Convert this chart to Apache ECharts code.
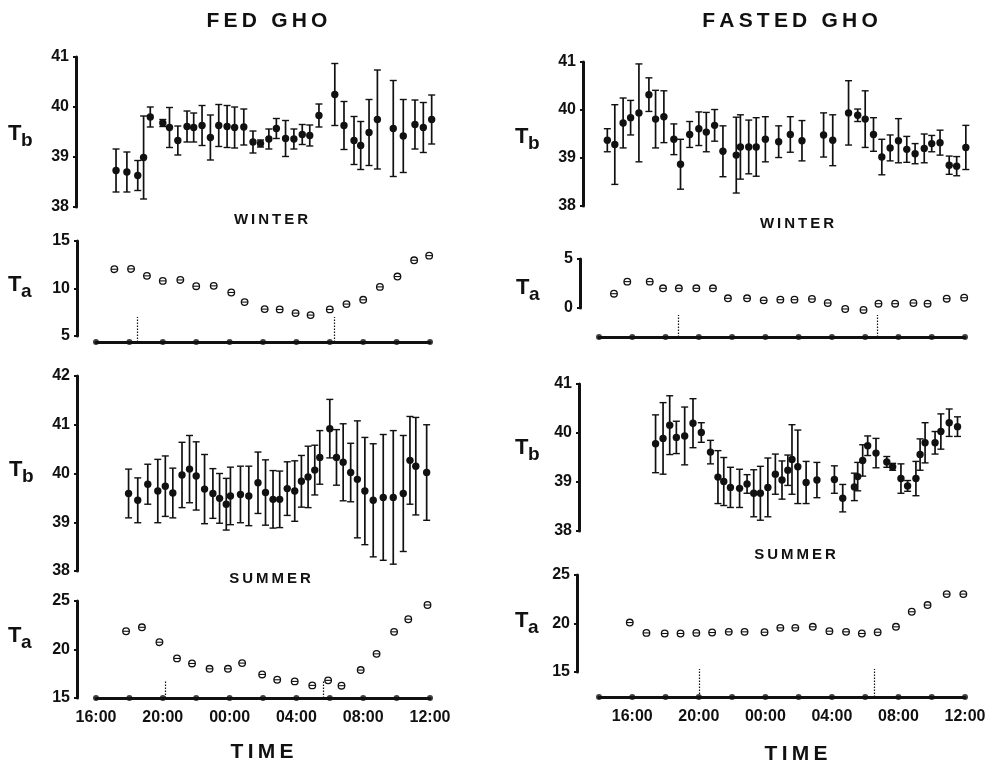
<!DOCTYPE html>
<html>
<head>
<meta charset="utf-8">
<script src="https://cdn.jsdelivr.net/npm/echarts@6/dist/echarts.min.js"></script>
<style>
  html, body { margin: 0; background: #fff; }
  #chart { width: 992px; height: 764px; }
</style>
</head>
<body>
<div id="chart"></div>
<script>
// hours counted from midnight of day 1 (16 = 16:00, 36 = 12:00 next day)
const fedTimeTicks = [16, 18, 20, 22, 24, 26, 28, 30, 32, 34, 36];
const fastTimeTicks = [14, 16, 18, 20, 22, 24, 26, 28, 30, 32, 34, 36];

// FED GHO, winter
const fedWinterTbHours = [17.2, 17.85, 18.5, 18.85, 19.25, 20.0, 20.4, 20.9, 21.45, 21.85, 22.35, 22.85, 23.35, 23.85, 24.3, 24.85, 25.4, 25.85, 26.35, 26.8, 27.35, 27.85, 28.35, 28.8, 29.35, 30.3, 30.85, 31.45, 31.85, 32.35, 32.85, 33.8, 34.4, 35.1, 35.6, 36.1];
const fedWinterTbMean = [38.73, 38.70, 38.63, 38.99, 39.80, 39.68, 39.59, 39.33, 39.61, 39.59, 39.63, 39.39, 39.63, 39.61, 39.59, 39.60, 39.30, 39.27, 39.36, 39.57, 39.37, 39.36, 39.45, 39.43, 39.83, 40.25, 39.63, 39.33, 39.23, 39.49, 39.75, 39.57, 39.42, 39.65, 39.59, 39.75];
const fedWinterTbSd = [0.43, 0.40, 0.30, 0.83, 0.20, 0.07, 0.40, 0.29, 0.31, 0.29, 0.40, 0.45, 0.42, 0.42, 0.41, 0.36, 0.22, 0.07, 0.20, 0.20, 0.36, 0.20, 0.20, 0.21, 0.23, 0.62, 0.48, 0.48, 0.48, 0.66, 0.99, 0.96, 0.73, 0.49, 0.50, 0.49];
const fedWinterTaHours = [17.1, 18.1, 19.05, 20.0, 21.05, 22.0, 23.05, 24.1, 24.9, 26.1, 27.0, 27.95, 28.85, 30.0, 31.0, 32.0, 33.0, 34.05, 35.05, 35.95];
const fedWinterTa = [12.03, 12.06, 11.33, 10.8, 10.9, 10.24, 10.28, 9.58, 8.57, 7.83, 7.8, 7.41, 7.2, 7.8, 8.36, 8.81, 10.17, 11.26, 12.97, 13.46];
const fedWinterSun = [18.45, 30.25];

// FED GHO, summer
const fedSummerTbHours = [17.95, 18.5, 19.1, 19.7, 20.15, 20.6, 21.15, 21.6, 22.0, 22.5, 23.0, 23.4, 23.8, 24.05, 24.65, 25.15, 25.7, 26.15, 26.6, 27.0, 27.45, 27.9, 28.3, 28.7, 29.1, 29.4, 30.0, 30.4, 30.8, 31.25, 31.65, 32.1, 32.6, 33.2, 33.8, 34.4, 34.8, 35.15, 35.8];
const fedSummerTbMean = [39.59, 39.45, 39.78, 39.64, 39.74, 39.60, 39.97, 40.09, 39.95, 39.68, 39.59, 39.49, 39.37, 39.54, 39.57, 39.54, 39.81, 39.61, 39.47, 39.47, 39.69, 39.64, 39.84, 39.93, 40.07, 40.33, 40.92, 40.33, 40.23, 40.02, 39.88, 39.64, 39.45, 39.51, 39.51, 39.59, 40.27, 40.15, 40.02];
const fedSummerTbSd = [0.50, 0.46, 0.41, 0.65, 0.62, 0.51, 0.67, 0.69, 0.70, 0.71, 0.51, 0.51, 0.53, 0.59, 0.58, 0.61, 0.63, 0.67, 0.59, 0.58, 0.55, 0.62, 0.53, 0.63, 0.51, 0.55, 0.60, 0.57, 0.79, 0.60, 1.20, 1.10, 1.16, 1.29, 1.37, 1.19, 0.90, 1.00, 0.98];
const fedSummerTaHours = [17.8, 18.75, 19.8, 20.85, 21.75, 22.8, 23.9, 24.75, 25.95, 26.85, 27.9, 28.95, 29.9, 30.7, 31.85, 32.8, 33.85, 34.7, 35.85];
const fedSummerTa = [21.88, 22.29, 20.75, 19.08, 18.56, 18.01, 18.01, 18.6, 17.43, 16.88, 16.71, 16.3, 16.82, 16.27, 17.88, 19.55, 21.82, 23.12, 24.59];
const fedSummerSun = [20.15, 29.6];

// FASTED GHO, winter
const fastWinterTbHours = [14.5, 14.95, 15.45, 15.9, 16.4, 17.0, 17.4, 17.9, 18.5, 18.9, 19.45, 20.0, 20.45, 20.95, 21.45, 22.25, 22.5, 23.0, 23.45, 24.0, 24.8, 25.5, 26.2, 27.5, 28.05, 29.0, 29.55, 30.0, 30.5, 31.0, 31.5, 32.0, 32.5, 33.0, 33.55, 34.0, 34.5, 35.05, 35.5, 36.05];
const fastWinterTbMean = [39.37, 39.28, 39.73, 39.84, 39.94, 40.32, 39.81, 39.86, 39.39, 38.87, 39.49, 39.61, 39.54, 39.68, 39.14, 39.06, 39.23, 39.23, 39.23, 39.39, 39.34, 39.49, 39.36, 39.48, 39.37, 39.94, 39.89, 39.81, 39.49, 39.02, 39.21, 39.36, 39.18, 39.09, 39.20, 39.30, 39.32, 38.85, 38.83, 39.22];
const fastWinterTbSd = [0.24, 0.83, 0.52, 0.36, 1.02, 0.35, 0.60, 0.54, 0.32, 0.52, 0.27, 0.35, 0.41, 0.33, 0.53, 0.79, 0.67, 0.56, 0.61, 0.47, 0.33, 0.37, 0.42, 0.46, 0.53, 0.67, 0.13, 0.59, 0.35, 0.37, 0.27, 0.46, 0.27, 0.21, 0.30, 0.17, 0.26, 0.19, 0.20, 0.46];
const fastWinterTaHours = [14.9, 15.7, 17.05, 17.85, 18.8, 19.85, 20.85, 21.75, 22.9, 23.9, 24.9, 25.75, 26.8, 27.75, 28.8, 29.9, 30.8, 31.8, 32.9, 33.75, 34.9, 35.95];
const fastWinterTa = [1.46, 2.69, 2.69, 2.01, 2.01, 2.01, 2.01, 0.99, 0.99, 0.78, 0.85, 0.85, 0.92, 0.51, -0.1, -0.2, 0.44, 0.44, 0.51, 0.44, 0.95, 1.05];
const fastWinterSun = [18.75, 30.7];

// FASTED GHO, summer
const fastSummerTbHours = [17.4, 17.85, 18.25, 18.65, 19.15, 19.65, 20.15, 20.7, 21.15, 21.5, 21.9, 22.45, 22.9, 23.3, 23.7, 24.15, 24.6, 25.0, 25.35, 25.6, 25.95, 26.45, 27.1, 28.15, 28.65, 29.35, 29.55, 29.85, 30.15, 30.65, 31.3, 31.65, 32.15, 32.55, 33.05, 33.3, 33.6, 34.2, 34.55, 35.05, 35.55];
const fastSummerTbMean = [39.78, 39.89, 40.16, 39.91, 39.94, 40.20, 40.01, 39.61, 39.10, 39.01, 38.89, 38.87, 38.96, 38.77, 38.77, 38.89, 39.16, 39.04, 39.24, 39.46, 39.31, 38.99, 39.04, 39.05, 38.67, 38.90, 39.11, 39.44, 39.74, 39.59, 39.41, 39.31, 39.07, 38.92, 39.07, 39.56, 39.80, 39.80, 40.03, 40.21, 40.13];
const fastSummerTbSd = [0.59, 0.73, 0.60, 0.33, 0.59, 0.50, 0.20, 0.24, 0.54, 0.49, 0.41, 0.39, 0.19, 0.48, 0.55, 0.60, 0.41, 0.39, 0.31, 0.71, 0.75, 0.43, 0.36, 0.28, 0.28, 0.28, 0.29, 0.32, 0.20, 0.30, 0.11, 0.07, 0.30, 0.11, 0.35, 0.32, 0.41, 0.23, 0.36, 0.28, 0.20];
const fastSummerTaHours = [15.85, 16.85, 17.95, 18.9, 19.85, 20.8, 21.8, 22.75, 23.95, 24.9, 25.8, 26.85, 27.85, 28.85, 29.8, 30.75, 31.85, 32.8, 33.75, 34.9, 35.9];
const fastSummerTa = [20.1, 19.03, 18.97, 18.97, 19.03, 19.07, 19.14, 19.14, 19.1, 19.55, 19.55, 19.66, 19.21, 19.14, 18.97, 19.1, 19.66, 21.21, 21.9, 23.03, 23.03];
const fastSummerSun = [20.05, 30.55];

const FONT = '"Liberation Sans", Arial, sans-serif';
const INK = '#111';

const fedCol = { left: 96, width: 334, tMin: 16, tMax: 36, ticks: fedTimeTicks };
const fastCol = { left: 599, width: 366, tMin: 14, tMax: 36, ticks: fastTimeTicks };

const grids = [], xAxes = [], yAxes = [], series = [], texts = [];

function hourLabel(h) {
  return h % 4 === 0 ? String(h % 24).padStart(2, '0') + ':00' : '';
}

// mean with symmetric error bar
function errorBarItem(params, api) {
  const x = api.value(0), m = api.value(1), sd = api.value(2);
  const c = api.coord([x, m]);
  const hi = api.coord([x, m + sd])[1];
  const lo = api.coord([x, m - sd])[1];
  const cap = 3.5;
  return {
    type: 'group',
    children: [
      { type: 'line', shape: { x1: c[0], y1: hi, x2: c[0], y2: lo }, style: { stroke: INK, lineWidth: 1.7 } },
      { type: 'line', shape: { x1: c[0] - cap, y1: hi, x2: c[0] + cap, y2: hi }, style: { stroke: INK, lineWidth: 1.4 } },
      { type: 'line', shape: { x1: c[0] - cap, y1: lo, x2: c[0] + cap, y2: lo }, style: { stroke: INK, lineWidth: 1.4 } },
      { type: 'circle', shape: { cx: c[0], cy: c[1], r: 3.7 }, style: { fill: INK } }
    ]
  };
}

// open circle with a bar through it (ambient temperature)
function thetaItem(params, api) {
  const c = api.coord([api.value(0), api.value(1)]);
  const r = 3.3;
  return {
    type: 'group',
    children: [
      { type: 'circle', shape: { cx: c[0], cy: c[1], r: r }, style: { fill: '#fff', stroke: INK, lineWidth: 1.3 } },
      { type: 'line', shape: { x1: c[0] - r, y1: c[1], x2: c[0] + r, y2: c[1] }, style: { stroke: INK, lineWidth: 1.1 } }
    ]
  };
}

function dataPanel(col, top, height, yMin, yMax, yStep, yOffset, render, data) {
  const i = grids.length;
  grids.push({ left: col.left, top: top, width: col.width, height: height, containLabel: false });
  xAxes.push({ gridIndex: i, type: 'value', min: col.tMin, max: col.tMax, show: false });
  yAxes.push({
    gridIndex: i, type: 'value', min: yMin, max: yMax, interval: yStep, offset: yOffset,
    axisLine: { show: true, lineStyle: { color: INK, width: 3 } },
    axisTick: { show: true, length: 3, lineStyle: { color: INK, width: 2 } },
    axisLabel: { color: INK, fontFamily: FONT, fontWeight: 'bold', fontSize: 16, margin: 7 },
    splitLine: { show: false }
  });
  series.push({ type: 'custom', xAxisIndex: i, yAxisIndex: i, renderItem: render, data: data, clip: false, silent: true });
}

function timePanel(col, axisY, height, showLabels, sun) {
  const i = grids.length;
  grids.push({ left: col.left, top: axisY - height, width: col.width, height: height, containLabel: false });
  xAxes.push({
    gridIndex: i, type: 'value', min: col.tMin, max: col.tMax, interval: 2,
    axisLine: { show: true, onZero: false, lineStyle: { color: INK, width: 3 } },
    axisTick: { show: false },
    splitLine: { show: false },
    axisLabel: {
      show: showLabels, formatter: hourLabel, color: INK, fontFamily: FONT, fontWeight: 'bold',
      fontSize: 16, margin: 12, showMinLabel: true, showMaxLabel: true, hideOverlap: false
    }
  });
  yAxes.push({ gridIndex: i, type: 'value', min: 0, max: 1, show: false });
  series.push({
    type: 'scatter', xAxisIndex: i, yAxisIndex: i, clip: false, silent: true,
    data: col.ticks.map(h => [h, 0]), symbolSize: 6, itemStyle: { color: INK },
    markLine: {
      silent: true, symbol: 'none', label: { show: false },
      lineStyle: { color: INK, type: [1.5, 1.5], width: 1.2, opacity: 1 },
      data: sun.map(h => ({ xAxis: h }))
    }
  });
}

function tb(hours, mean, sd) { return hours.map((h, k) => [h, mean[k], sd[k]]); }
function ta(hours, vals) { return hours.map((h, k) => [h, vals[k]]); }

function text(x, y, str, size, align) {
  texts.push({
    type: 'text', x: x, y: y, silent: true,
    style: { text: str, fill: INK, fontFamily: FONT, fontWeight: 'bold', fontSize: size, align: align || 'center', verticalAlign: 'middle' }
  });
}
function sym(x, y, sub) {
  text(x, y, 'T', 22, 'left');
  text(x + 13, y + 7, sub, 19, 'left');
}
const spaced = s => s.split('').join('\u2009');

// left column: FED GHO
dataPanel(fedCol, 57, 150, 38, 41, 1, 20, errorBarItem, tb(fedWinterTbHours, fedWinterTbMean, fedWinterTbSd));
dataPanel(fedCol, 241, 95, 5, 15, 5, 19, thetaItem, ta(fedWinterTaHours, fedWinterTa));
timePanel(fedCol, 342, 25, false, fedWinterSun);
dataPanel(fedCol, 376, 195, 38, 42, 1, 19, errorBarItem, tb(fedSummerTbHours, fedSummerTbMean, fedSummerTbSd));
dataPanel(fedCol, 601, 97, 15, 25, 5, 19, thetaItem, ta(fedSummerTaHours, fedSummerTa));
timePanel(fedCol, 698, 18, true, fedSummerSun);

// right column: FASTED GHO
dataPanel(fastCol, 62, 144, 38, 41, 1, 16, errorBarItem, tb(fastWinterTbHours, fastWinterTbMean, fastWinterTbSd));
dataPanel(fastCol, 259, 49, 0, 5, 5, 19, thetaItem, ta(fastWinterTaHours, fastWinterTa));
timePanel(fastCol, 337, 22, false, fastWinterSun);
dataPanel(fastCol, 384, 147, 38, 41, 1, 20, errorBarItem, tb(fastSummerTbHours, fastSummerTbMean, fastSummerTbSd));
dataPanel(fastCol, 575, 97, 15, 25, 5, 22, thetaItem, ta(fastSummerTaHours, fastSummerTa));
timePanel(fastCol, 697, 28, true, fastSummerSun);

text(267, 21, spaced('FED GHO'), 21);
text(790, 21, spaced('FASTED GHO'), 21);
text(271, 220, spaced('WINTER'), 15);
text(797, 224, spaced('WINTER'), 15);
text(270, 579, spaced('SUMMER'), 15);
text(795, 555, spaced('SUMMER'), 15);
text(262, 752, spaced('TIME'), 21);
text(796, 754, spaced('TIME'), 21);

sym(8, 134, 'b');
sym(8, 285, 'a');
sym(9, 470, 'b');
sym(8, 636, 'a');
sym(515, 137, 'b');
sym(516, 288, 'a');
sym(515, 448, 'b');
sym(515, 621, 'a');

const chart = echarts.init(document.getElementById('chart'), null, { renderer: 'canvas' });
chart.setOption({
  animation: false,
  backgroundColor: '#fff',
  grid: grids,
  xAxis: xAxes,
  yAxis: yAxes,
  series: series,
  graphic: { elements: texts }
});
</script>
</body>
</html>
